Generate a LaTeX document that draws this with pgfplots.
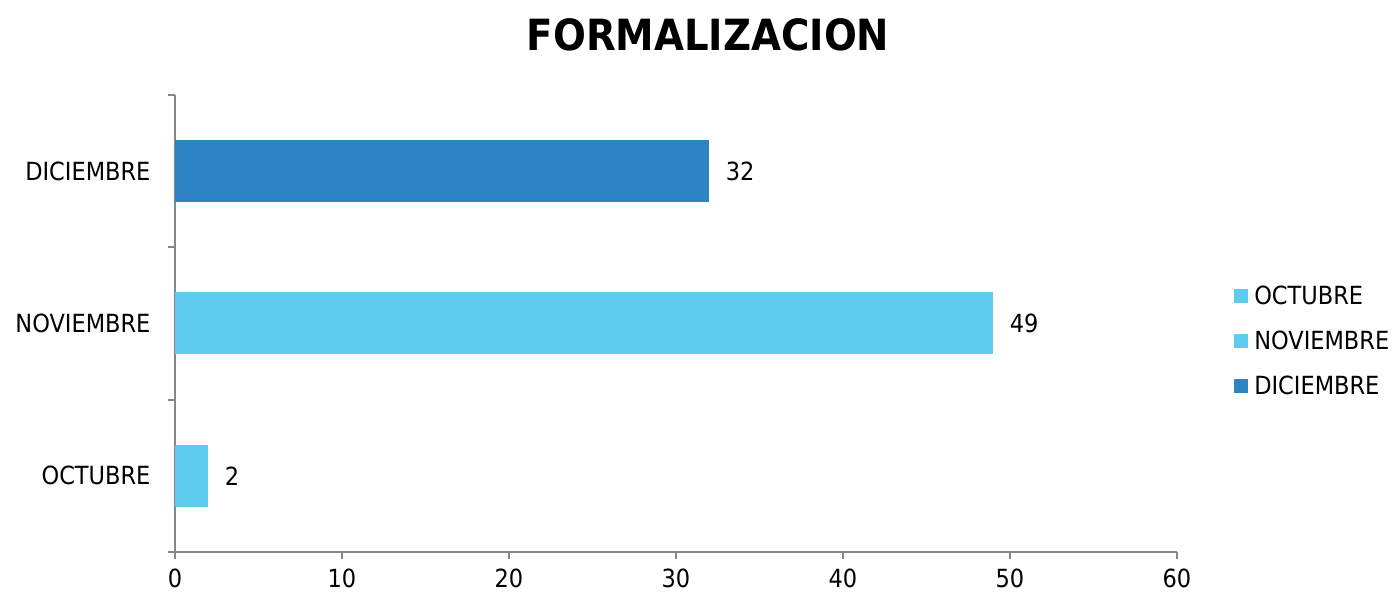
\documentclass[border=0pt]{standalone}
\usepackage{fontspec}
\setmainfont{DejaVu Sans Condensed}
\usepackage{pgfplots}
\pgfplotsset{compat=1.18}
\definecolor{lightb}{HTML}{5FCBEF}
\definecolor{darkb}{HTML}{2E83C3}
\definecolor{axgray}{HTML}{868686}
\begin{document}
\begin{tikzpicture}[x=1pt,y=1pt]
\useasboundingbox (0,0) rectangle (1395,599);
\node[font=\fontsize{43}{50}\selectfont\bfseries] at (708,564) {FORMALIZACION};
\begin{axis}[
  at={(175pt,47pt)}, anchor=south west,
  scale only axis, width=1002pt, height=457pt,
  xbar, bar width=62pt, bar shift=0pt,
  xmin=0, xmax=60, ymin=-0.5, ymax=2.5,
  xtick={0,10,...,60},
  ytick={-0.5,0.5,1.5,2.5}, yticklabels={},
  extra y ticks={0,1,2},
  extra y tick labels={OCTUBRE,NOVIEMBRE,DICIEMBRE},
  extra y tick style={major tick length=0pt},
  axis lines*=left,
  axis line style={axgray, line width=2pt},
  every tick/.style={axgray, line width=2pt},
  tick align=outside,
  major tick length=7pt,
  /pgf/number format/assume math mode=true,
  tick label style={font=\fontsize{25}{30}\selectfont, text=black},
  xticklabel style={yshift=-6pt},
  yticklabel style={xshift=-21pt},
  nodes near coords,
  every node near coord/.append style={font=\fontsize{25}{30}\selectfont, black, xshift=13pt},
  legend style={draw=none, at={(1.057,0.462)}, anchor=west,
    font=\fontsize{25}{30}\selectfont, row sep=21pt, inner sep=0pt,
    cells={anchor=west}},
  legend cell align=left,
  legend image code/.code={\fill[#1] (0pt,-7pt) rectangle (14pt,7pt);},
  clip=false,
]
\addplot[fill=lightb, draw=none] coordinates {(2,0)};
\addplot[fill=lightb, draw=none] coordinates {(49,1)};
\addplot[fill=darkb, draw=none] coordinates {(32,2)};
\legend{\hspace{4pt}OCTUBRE,\hspace{4pt}NOVIEMBRE,\hspace{4pt}DICIEMBRE}
\end{axis}
\end{tikzpicture}
\end{document}
